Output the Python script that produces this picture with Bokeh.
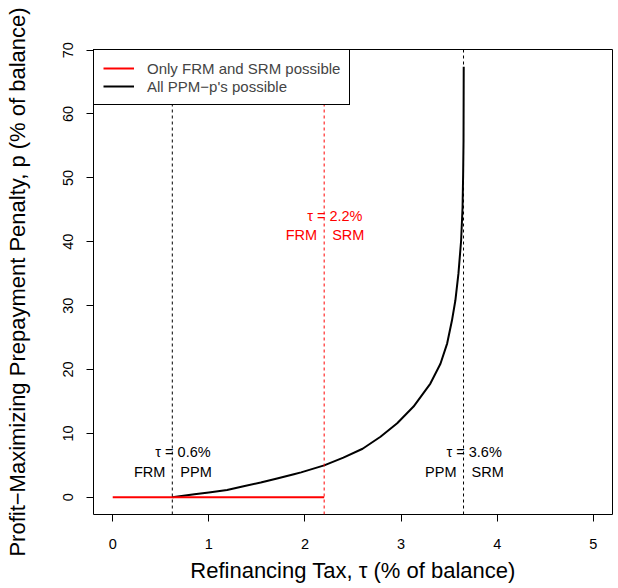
from bokeh.plotting import figure
from bokeh.models import Range1d, Span, Legend, LegendItem, FixedTicker, ColumnDataSource
from bokeh.embed import file_html
from bokeh.resources import INLINE
from bokeh.core.properties import value

# ---- data ----
tau_curve = [0.62, 0.85, 1.0, 1.19, 1.35, 1.54, 1.7, 1.885, 1.96, 2.2, 2.4, 2.6,
             2.786, 2.96, 3.13, 3.305, 3.41, 3.48, 3.53, 3.565, 3.597, 3.625,
             3.64, 3.646, 3.65, 3.652]
p_curve = [0.0, 0.47, 0.75, 1.14, 1.7, 2.3, 2.9, 3.6, 3.9, 5.0, 6.2, 7.6,
           9.47, 11.6, 14.2, 17.8, 20.9, 24.1, 27.7, 30.8, 35.0, 40.2,
           45.4, 50.6, 55.8, 67.4]
red_tau = [0.0, 2.2]
red_p = [0.0, 0.0]

thresholds = [0.62, 2.2, 3.65]
threshold_text = ["τ = 0.6%", "τ = 2.2%", "τ = 3.6%"]
regime_left = ["FRM", "FRM", "PPM"]
regime_right = ["PPM", "SRM", "SRM"]
threshold_colors = ["black", "red", "black"]
label_y_upper = [7.1, 44.1, 7.1]
label_y_lower = [4.0, 41.0, 4.0]

x_ticks = [0, 1, 2, 3, 4, 5]
y_ticks = [0, 10, 20, 30, 40, 50, 60, 70]
xlim = [0, 5]
ylim = [0, max(p_curve)]

legend_labels = ["Only FRM and SRM possible", "All PPM\u2212p's possible"]
x_title = "Refinancing Tax, τ (% of balance)"
y_title = "Profit\u2212Maximizing Prepayment Penalty, p (% of balance)"

FONT = "Liberation Sans"
BASE = "14.5px"
LEG = "15px"
BIG = "22px"

def expand(lim):
    d = (lim[1] - lim[0]) * 0.04
    return Range1d(lim[0] - d, lim[1] + d)

p = figure(width=618, height=588, output_backend="svg", toolbar_location=None,
           x_range=expand(xlim), y_range=expand(ylim),
           min_border_left=93, min_border_right=6, min_border_top=49, min_border_bottom=74)
p.background_fill_color = "white"
p.border_fill_color = "white"
p.outline_line_color = "black"
p.outline_line_width = 1
p.outline_line_alpha = 1
p.grid.visible = False

for ax in (p.xaxis[0], p.yaxis[0]):
    ax.axis_line_color = None
    ax.major_tick_in = 0
    ax.major_tick_out = 7
    ax.major_tick_line_color = "black"
    ax.minor_tick_line_color = None
    ax.major_label_text_font = FONT
    ax.major_label_text_font_size = BASE
    ax.major_label_text_color = "black"
    ax.axis_label_text_font = FONT
    ax.axis_label_text_font_size = BIG
    ax.axis_label_text_font_style = "normal"
    ax.axis_label_text_color = "black"

p.xaxis.ticker = FixedTicker(ticks=x_ticks)
p.yaxis.ticker = FixedTicker(ticks=y_ticks)
p.xaxis.axis_label = x_title
p.yaxis.axis_label = y_title
p.xaxis.major_label_standoff = 17
p.xaxis.axis_label_standoff = 6
p.yaxis.major_label_orientation = "vertical"
p.yaxis.major_label_standoff = 13
p.yaxis.axis_label_standoff = 31

# vertical threshold lines
for t, c in zip(thresholds, threshold_colors):
    p.add_layout(Span(location=t, dimension="height", line_color=c,
                      line_width=1, line_dash="3 3"))

black_r = p.line(tau_curve, p_curve, line_color="black", line_width=2, line_join="round")
red_r = p.line(red_tau, red_p, line_color="red", line_width=2)

src = ColumnDataSource(dict(x=thresholds, t=threshold_text, l=regime_left, r=regime_right,
                            c=threshold_colors, yu=label_y_upper, yl=label_y_lower))
common = dict(source=src, text_color="c", text_font=value(FONT),
              text_font_size=value(BASE), text_baseline="alphabetic")
p.text(x="x", y="yu", text="t", text_align="left", x_offset=-17, **common)
p.text(x="x", y="yl", text="l", text_align="right", x_offset=-7, **common)
p.text(x="x", y="yl", text="r", text_align="left", x_offset=8, **common)

legend = Legend(items=[LegendItem(label=legend_labels[0], renderers=[red_r]),
                       LegendItem(label=legend_labels[1], renderers=[black_r])],
                location="top_left", margin=0, padding=9, spacing=0,
                label_height=18, glyph_height=18, glyph_width=31, label_standoff=13,
                label_text_font=FONT, label_text_font_size=LEG,
                border_line_color="black", border_line_width=1, border_line_alpha=1,
                background_fill_alpha=1)
p.add_layout(legend)

open("out.html", "w").write(file_html(p, INLINE))
